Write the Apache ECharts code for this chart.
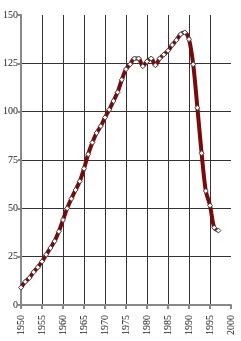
<!DOCTYPE html>
<html><head><meta charset="utf-8">
<script src="https://cdn.jsdelivr.net/npm/echarts@6/dist/echarts.min.js"></script>
<style>html,body{margin:0;padding:0;background:#fff}#c{width:241px;height:341px}</style>
</head><body><div id="c"></div>
<script>
var years = [1950,1951,1952,1953,1954,1955,1956,1957,1958,1959,1960,1961,1962,1963,1964,1965,1966,1967,1968,1969,1970,1971,1972,1973,1974,1975,1976,1977,1978,1979,1980,1981,1982,1983,1984,1985,1986,1987,1988,1989,1990,1991,1992,1993,1994,1995,1996,1997];
var values = [9,12,14,17,19.5,22.5,26,29.5,33,38,44,50,55,59.5,64,70.5,78,84,89,92.5,97,101,105.5,110,116.5,122,124.5,127.5,127.5,123.5,126,127.5,124,127.5,129.5,131.5,134.5,137,140,141,137.5,124.5,102,78.5,59,51.5,40,38.5];
var yTicks = [0,25,50,75,100,125,150];
var xTicks = [1950,1955,1960,1965,1970,1975,1980,1985,1990,1995,2000];

var data = years.map(function(y,i){return [y, values[i]];});
var chart = echarts.init(document.getElementById('c'));
var xGridColors = xTicks.map(function(t,i){return i===xTicks.length-1 ? 'rgba(0,0,0,0)' : '#333';});
var yGridColors = yTicks.map(function(t,i){return i===yTicks.length-1 ? 'rgba(0,0,0,0)' : '#333';});
chart.setOption({
  animation:false,
  grid:{left:21,right:10,top:15,bottom:36},
  xAxis:{type:'value',min:xTicks[0],max:xTicks[xTicks.length-1],interval:5,
    axisLine:{show:true,lineStyle:{color:'#888',width:2}},
    axisTick:{show:true,length:4,lineStyle:{color:'#888',width:2}},
    axisLabel:{rotate:90,margin:10,fontFamily:'Liberation Serif',fontSize:10,color:'#222',
      formatter:function(v){return String(v);}},
    splitLine:{show:true,lineStyle:{color:xGridColors,width:1}}},
  yAxis:{type:'value',min:yTicks[0],max:yTicks[yTicks.length-1],interval:25,
    axisLine:{show:true,lineStyle:{color:'#888',width:2}},
    axisTick:{show:true,length:3,lineStyle:{color:'#888',width:2}},
    axisLabel:{margin:3,fontFamily:'Liberation Serif',fontSize:10,color:'#222',
      formatter:function(v){return String(v);}},
    splitLine:{show:true,lineStyle:{color:yGridColors,width:1}}},
  series:[{type:'line',data:data,smooth:0.3,
    lineStyle:{color:'#7a0a0a',width:4},
    symbol:'diamond',symbolSize:5,showAllSymbol:true,
    itemStyle:{color:'#fff',borderColor:'#444',borderWidth:1}}]
});
</script></body></html>
